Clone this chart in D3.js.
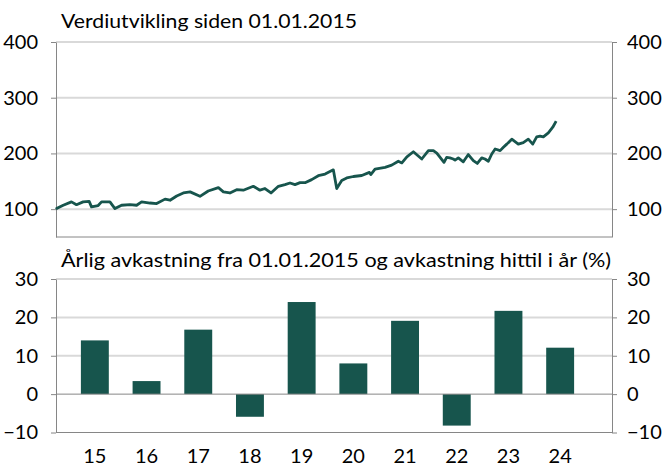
<!DOCTYPE html>
<html lang="no">
<head>
<meta charset="utf-8">
<title>Verdiutvikling</title>
<script src="https://d3js.org/d3.v7.min.js"></script>
<style>
  body { margin: 0; background: #fff; }
  text { font-family: Lato, "Open Sans", sans-serif; fill: #000; }
</style>
</head>
<body>
<script>
// verdiutvikling (index, 01.01.2015 = 100)
var lineDates = ["2015-01-01","2015-01-05","2015-02-19","2015-04-16","2015-05-20","2015-07-04","2015-08-14","2015-08-30","2015-10-14","2015-11-06",
  "2016-01-02","2016-02-05","2016-03-21","2016-05-17","2016-07-01","2016-08-04","2016-09-30","2016-11-14",
  "2017-01-10","2017-02-13","2017-03-30","2017-05-14","2017-06-29","2017-09-04","2017-10-30",
  "2018-01-07","2018-02-10","2018-03-26","2018-05-11","2018-06-25","2018-09-01","2018-10-16","2018-11-19","2018-12-30",
  "2019-02-18","2019-04-04","2019-05-08","2019-06-11","2019-07-15","2019-08-18","2019-10-02","2019-11-16",
  "2020-01-01","2020-02-26","2020-03-20","2020-04-23","2020-05-27","2020-07-11","2020-09-06","2020-10-28","2020-11-06","2020-12-05",
  "2021-02-11","2021-03-28","2021-05-12","2021-06-05","2021-07-09","2021-08-22","2021-10-18","2021-12-02",
  "2022-01-05","2022-01-28","2022-03-18","2022-04-05","2022-04-27","2022-05-20","2022-06-01","2022-06-23","2022-07-27","2022-08-30","2022-10-03","2022-10-30","2022-11-29","2022-12-21",
  "2023-01-13","2023-02-05","2023-02-28","2023-04-03","2023-04-25","2023-05-18","2023-06-21","2023-08-04","2023-09-07","2023-10-11","2023-11-10","2023-12-07","2023-12-30",
  "2024-01-21","2024-02-24","2024-03-25","2024-04-17"];
var lineValues = [100,101,107,113,108,113,114,104,106.5,113,
  113,101,107,108,107,113,111,110,
  118,116,123.6,129,131,123,132.5,
  138.5,131,129,135,134,141,134,137,129,
  141,144,147,144,147.5,147.5,153,160,
  163,170.5,137,151.5,156,158.6,160.4,166,162,172,
  175,179,186,183,194,203,190,205,
  205,200.7,184,193,192,190,188,192,185,198,187,182,192,190,
  186,199,208,205,211,216.7,225.6,216.7,219.5,225.6,216.7,229.7,231,
  229.7,237,247,258];
var lineTicks = [100, 200, 300, 400];

// årlig avkastning (%)
var years = ["15","16","17","18","19","20","21","22","23","24"];
var returns = [14.0, 3.4, 16.8, -5.9, 24.0, 8.0, 19.1, -8.2, 21.7, 12.1];
var barTicks = [-10, 0, 10, 20, 30];

var W = 665, H = 466;
var left = 56, right = 612;
var green = "#17554d", axisGrey = "#868686", gridGrey = "#d9d9d9";

var svg = d3.select("body").append("svg")
    .attr("width", W)
    .attr("height", H);

var parse = d3.timeParse("%Y-%m-%d");
var series = lineDates.map(function (d, i) {
    return { date: parse(d), value: lineValues[i] };
});

// ---- top panel ----
var x = d3.scaleTime()
    .domain([new Date(2015, 0, 1), new Date(2025, 4, 1)])
    .range([left, right]);
var y = d3.scaleLinear().domain([50, 400]).range([237, 42]);

svg.append("text").attr("x", 61).attr("y", 28)
    .style("font-size", "20px")
    .attr("textLength", 296).attr("lengthAdjust", "spacingAndGlyphs")
    .text("Verdiutvikling siden 01.01.2015");

svg.append("g").selectAll("line")
    .data(lineTicks)
    .enter().append("line")
    .attr("x1", left).attr("x2", right)
    .attr("y1", function (d) { return y(d); })
    .attr("y2", function (d) { return y(d); })
    .attr("stroke", gridGrey).attr("stroke-width", 2);

function styleAxis(g) {
    g.select(".domain").attr("stroke", axisGrey);
    g.selectAll(".tick line").attr("stroke", axisGrey);
    g.selectAll(".tick text").style("font-size", "20px")
        .attr("font-family", "Lato, sans-serif").attr("fill", "#000");
}

svg.append("g").attr("transform", "translate(" + left + ",0)")
    .call(d3.axisLeft(y).tickValues(lineTicks).tickSize(5).tickSizeOuter(0).tickPadding(13))
    .call(styleAxis);
svg.append("g").attr("transform", "translate(" + right + ",0)")
    .call(d3.axisRight(y).tickValues(lineTicks).tickSize(5).tickSizeOuter(0).tickPadding(10))
    .call(styleAxis);
svg.append("line")
    .attr("x1", left).attr("x2", right)
    .attr("y1", y(50)).attr("y2", y(50))
    .attr("stroke", axisGrey);

svg.append("path")
    .datum(series)
    .attr("fill", "none")
    .attr("stroke", green)
    .attr("stroke-width", 2.8)
    .attr("stroke-linejoin", "round")
    .attr("d", d3.line()
        .x(function (d) { return x(d.date); })
        .y(function (d) { return y(d.value); }));

// ---- bottom panel ----
var xb = d3.scaleBand().domain(years).range([69, 586])
    .paddingInner(0.46).paddingOuter(0.23);
var yb = d3.scaleLinear().domain([-10, 30]).range([432.5, 279]);

svg.append("text").attr("x", 61).attr("y", 267)
    .style("font-size", "20px")
    .attr("textLength", 550).attr("lengthAdjust", "spacingAndGlyphs")
    .text("Årlig avkastning fra 01.01.2015 og avkastning hittil i år (%)");

svg.append("g").selectAll("line")
    .data(barTicks.filter(function (d) { return d > 0; }))
    .enter().append("line")
    .attr("x1", left).attr("x2", right)
    .attr("y1", function (d) { return yb(d); })
    .attr("y2", function (d) { return yb(d); })
    .attr("stroke", gridGrey).attr("stroke-width", 2);

svg.append("g").selectAll("rect")
    .data(returns)
    .enter().append("rect")
    .attr("x", function (d, i) { return xb(years[i]); })
    .attr("width", xb.bandwidth())
    .attr("y", function (d) { return yb(Math.max(0, d)); })
    .attr("height", function (d) { return Math.abs(yb(d) - yb(0)); })
    .attr("fill", green);

[0, -10].forEach(function (v) {
    svg.append("line")
        .attr("x1", left).attr("x2", right)
        .attr("y1", yb(v)).attr("y2", yb(v))
        .attr("stroke", axisGrey);
});

svg.append("g").attr("transform", "translate(" + left + ",0)")
    .call(d3.axisLeft(yb).tickValues(barTicks).tickSize(5).tickSizeOuter(0).tickPadding(13))
    .call(styleAxis);
svg.append("g").attr("transform", "translate(" + right + ",0)")
    .call(d3.axisRight(yb).tickValues(barTicks).tickSize(5).tickSizeOuter(0).tickPadding(10))
    .call(styleAxis);

svg.append("g").selectAll("text")
    .data(years)
    .enter().append("text")
    .attr("x", function (d) { return xb(d) + xb.bandwidth() / 2; })
    .attr("y", 463)
    .attr("text-anchor", "middle")
    .style("font-size", "20px")
    .text(function (d) { return d; });
</script>
</body>
</html>
